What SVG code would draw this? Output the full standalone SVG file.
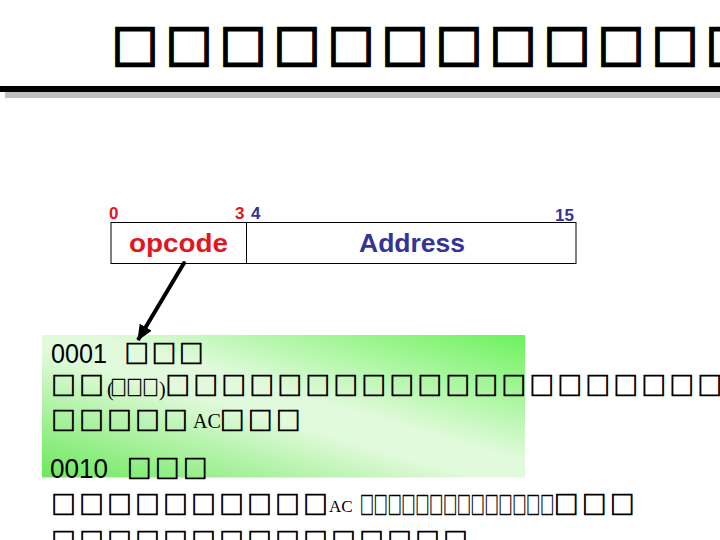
<svg xmlns="http://www.w3.org/2000/svg" width="720" height="540" viewBox="0 0 720 540">
<style>
.tofu{font-family:"Noto Sans CJK SC","DejaVu Sans",sans-serif;font-size:24.5px;letter-spacing:3.5px;fill:#000;stroke:#000;stroke-width:0.8px}
.narrow{font-family:"Noto Sans CJK SC","DejaVu Sans",sans-serif;font-size:20px;fill:#000;stroke:#000;stroke-width:0.6px}
.ser{font-family:"Liberation Serif",serif;fill:#000}
.num{font-family:"Liberation Sans",Arial,sans-serif;font-size:27px;fill:#000}
.bit{font-family:"Liberation Sans",Arial,sans-serif;font-size:17px;font-weight:bold}
.lbl{font-family:"Liberation Sans",Arial,sans-serif;font-size:25px;font-weight:bold}
.red{fill:#e3161e}
.blue{fill:#333399}
</style>
<defs>
<linearGradient id="gr" x1="1" y1="0" x2="0" y2="1">
<stop offset="0" stop-color="#6cf25c"/>
<stop offset="0.45" stop-color="#e2fadc"/>
<stop offset="0.55" stop-color="#e2fadc"/>
<stop offset="1" stop-color="#6ce85c"/>
</linearGradient>
<marker id="ah" viewBox="0 0 16 14" refX="15" refY="7" markerWidth="16" markerHeight="14" orient="auto" markerUnits="userSpaceOnUse">
<path d="M0,0 L16,7 L0,14 z" fill="#000"/>
</marker>
</defs>
<rect width="720" height="540" fill="#fff"/>
<g id="title">
<rect x="5" y="92" width="715" height="6" fill="#c0c0c0"/>
<rect x="0" y="86" width="720" height="6" fill="#000"/>
<text class="tofu" x="112" y="63.5" style="font-size:46px;letter-spacing:8px;stroke-width:3px">□□□□□□□□□□□□</text>
</g>
<g id="format">
<rect x="111" y="222.5" width="465" height="41" fill="#fff" stroke="#000" stroke-width="1"/>
<line x1="246.5" y1="222.5" x2="246.5" y2="263.5" stroke="#000" stroke-width="1"/>
<text class="bit red" x="109" y="219">0</text>
<text class="bit red" x="235" y="219">3</text>
<text class="bit blue" x="251" y="219">4</text>
<text class="bit blue" x="555" y="221">15</text>
<text class="lbl red" x="129" y="252" textLength="99" lengthAdjust="spacingAndGlyphs">opcode</text>
<text class="lbl blue" x="359" y="252" textLength="106" lengthAdjust="spacingAndGlyphs">Address</text>
</g>
<g id="desc">
<rect x="42" y="335" width="483" height="142.5" fill="url(#gr)"/>
<text class="num" x="51" y="363" textLength="56" lengthAdjust="spacingAndGlyphs">0001</text>
<text class="tofu" x="124.5" y="362.5" style="letter-spacing:2.8px">□□□</text>
<text class="tofu" x="51.3" y="394.5">□□</text>
<text class="ser" x="107" y="396" style="font-size:20px">(</text>
<text class="narrow" x="110.5" y="394.5" textLength="48" lengthAdjust="spacingAndGlyphs" style="font-size:21px">□□□</text>
<text class="ser" x="159" y="396" style="font-size:20px">)</text>
<text class="tofu" x="165.5" y="394.5">□□□□□□□□□□□□□□□□□□□□</text>
<text class="tofu" x="51.3" y="429.5">□□□□□</text>
<text class="ser" x="193" y="428" style="font-size:20px">AC</text>
<text class="tofu" x="220" y="429.5">□□□</text>
<text class="num" x="50" y="478" textLength="58" lengthAdjust="spacingAndGlyphs">0010</text>
<text class="tofu" x="127" y="477.5">□□□</text>
<text class="tofu" x="51.3" y="513.5">□□□□□□□□□□</text>
<text class="ser" x="329" y="512" style="font-size:17px">AC</text>
<text class="narrow" x="360" y="514" textLength="194" lengthAdjust="spacingAndGlyphs" style="font-size:24px">□□□□□□□□□□□□□□</text>
<text class="tofu" x="554" y="513.5">□□□</text>
<text class="tofu" x="51.3" y="550.5">□□□□□□□□□□□□□□□</text>
</g>
<g id="connectors">
<circle cx="184" cy="263" r="2" fill="#000"/>
<line x1="184" y1="263" x2="138" y2="340" stroke="#000" stroke-width="4" marker-end="url(#ah)"/>
</g>
</svg>
